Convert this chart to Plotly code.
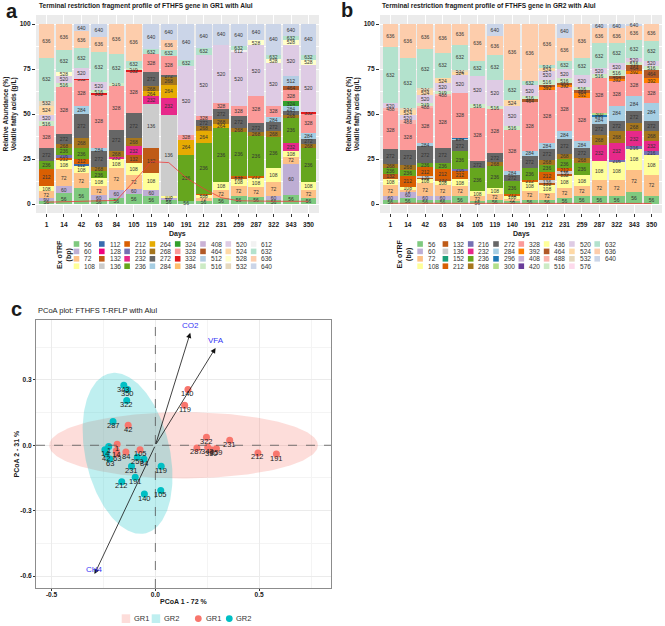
import numpy as np
import plotly.graph_objects as go

W, H = 665, 626
OX, OY = 0, 0
FONT = "Liberation Sans, Arial, sans-serif"

# ---------------- data: T-RFLP profiles ----------------
DAYS = ['1', '14', '42', '63', '84', '105', '119', '140', '191', '212', '231', '259', '287', '322', '343', '350']

FRAGS_GR1 = [56, 60, 72, 108, 112, 128, 132, 136, 212, 216, 232, 236, 264, 268, 272, 284,
             324, 328, 332, 384, 408, 464, 512, 516, 520, 524, 528, 532, 612, 632, 636, 640]
FRAGS_GR2 = [56, 60, 72, 108, 132, 136, 152, 212, 216, 232, 236, 268, 272, 284, 296, 300,
             328, 392, 408, 420, 436, 464, 488, 516, 520, 524, 532, 576, 632, 636, 640]

FRAG_COLORS = {
    56: '#7FC97F', 60: '#BEAED4', 72: '#FDC086', 108: '#FFFF99', 112: '#386CB0', 128: '#F0027F',
    132: '#BF5B17', 136: '#CCCCCC', 152: '#1B9E77', 212: '#D95F02', 216: '#7570B3', 232: '#E7298A',
    236: '#66A61E', 264: '#E6AB02', 268: '#A6761D', 272: '#666666', 284: '#A6CEE3', 296: '#1F78B4',
    300: '#B2DF8A', 324: '#33A02C', 328: '#FB9A99', 332: '#E31A1C', 384: '#FDBF6F', 392: '#FF7F00',
    408: '#CAB2D6', 420: '#6A3D9A', 436: '#FFFF99', 464: '#B15928', 488: '#FBB4AE', 512: '#B3CDE3',
    516: '#CCEBC5', 520: '#DECBE4', 524: '#FED9A6', 528: '#FFFFCC', 532: '#E5D8BD', 576: '#FDDAEC',
    612: '#F2F2F2', 632: '#B3E2CD', 636: '#FDCDAC', 640: '#CBD5E8',
}

# GR1 relative abundance (%) per sampling day
GR1_D1 = {56: 1.8, 60: 1.5, 72: 3.7, 108: 3.2, 212: 9.2, 236: 4.3, 272: 7.3, 328: 12.1, 516: 2.8, 520: 3.7, 524: 5.0, 532: 2.8, 632: 23.6, 636: 19.0}
GR1_D14 = {56: 5.9, 60: 3.9, 72: 9.6, 108: 4.8, 212: 1.3, 216: 1.9, 236: 3.6, 268: 2.5, 272: 5.5, 328: 26.0, 516: 2.2, 520: 4.1, 528: 1.8, 632: 12.3, 636: 14.6}
GR1_D42 = {56: 8.7, 72: 8.5, 108: 3.7, 112: 1.5, 212: 2.6, 236: 6.1, 268: 5.5, 272: 13.4, 284: 4.6, 328: 14.5, 332: 0.5, 520: 5.9, 632: 11.2, 636: 9.2, 640: 4.1}
GR1_D63 = {56: 2.0, 60: 3.2, 72: 4.6, 108: 4.6, 236: 3.7, 268: 2.4, 272: 8.7, 284: 1.9, 328: 30.0, 332: 0.6, 516: 1.5, 520: 4.5, 632: 16.8, 636: 8.3, 640: 7.2}
GR1_D84 = {56: 3.5, 60: 4.4, 72: 12.1, 108: 5.0, 232: 1.2, 268: 3.4, 272: 11.4, 328: 24.5, 516: 2.0, 632: 16.1, 636: 16.4}
GR1_D105 = {56: 5.7, 60: 2.6, 72: 8.0, 108: 6.5, 132: 4.6, 232: 4.6, 268: 4.6, 272: 13.8, 328: 23.3, 332: 0.5, 516: 1.5, 632: 4.0, 636: 20.3}
GR1_D119 = {56: 4.3, 60: 3.7, 108: 9.2, 132: 13.9, 136: 24.6, 232: 4.1, 264: 2.8, 268: 3.1, 272: 7.4, 328: 10.2, 632: 2.8, 640: 13.9}
GR1_D140 = {56: 2.0, 60: 1.5, 108: 1.0, 136: 45.1, 232: 9.3, 264: 7.4, 268: 4.3, 272: 1.3, 328: 10.1, 632: 3.4, 636: 5.9, 640: 8.7}
GR1_D191 = {56: 1.5, 236: 25.9, 264: 8.3, 328: 2.8, 520: 38.0, 632: 3.7, 640: 19.8}
GR1_D212 = {56: 1.8, 72: 1.7, 108: 1.6, 212: 0.6, 236: 28.2, 264: 6.5, 268: 3.1, 272: 3.4, 328: 1.8, 520: 34.3, 632: 3.7, 640: 13.3}
GR1_D231 = {56: 3.3, 72: 4.3, 108: 4.4, 236: 30.2, 264: 2.4, 268: 2.4, 272: 5.9, 328: 3.3, 520: 32.4, 640: 11.4}
GR1_D259 = {56: 4.3, 72: 5.5, 108: 4.6, 132: 0.6, 212: 0.7, 236: 24.1, 268: 2.4, 272: 6.5, 328: 5.6, 520: 30.0, 612: 1.5, 632: 1.8, 640: 12.4}
GR1_D287 = {56: 3.9, 72: 5.5, 108: 5.0, 212: 1.3, 236: 21.9, 268: 2.2, 272: 5.2, 328: 15.2, 520: 27.9, 528: 3.2, 640: 8.7}
GR1_D322 = {56: 2.4, 60: 1.9, 72: 7.7, 108: 8.0, 236: 17.2, 268: 3.2, 272: 5.0, 284: 2.9, 328: 6.3, 520: 23.7, 528: 2.3, 632: 2.4, 640: 17.0}
GR1_D343 = {56: 5.2, 60: 17.2, 72: 3.7, 108: 3.2, 232: 4.6, 236: 13.9, 268: 1.8, 272: 1.9, 284: 2.8, 324: 2.7, 328: 6.5, 464: 2.2, 512: 5.2, 520: 17.6, 528: 2.8, 632: 1.8, 640: 6.9}
GR1_D350 = {56: 3.3, 72: 4.3, 108: 4.4, 236: 19.1, 268: 2.4, 272: 2.6, 284: 3.3, 328: 10.8, 332: 0.8, 520: 26.4, 528: 2.8, 632: 2.8, 640: 17.0}
GR1_PROFILES = [GR1_D1, GR1_D14, GR1_D42, GR1_D63, GR1_D84, GR1_D105, GR1_D119, GR1_D140,
                GR1_D191, GR1_D212, GR1_D231, GR1_D259, GR1_D287, GR1_D322, GR1_D343, GR1_D350]

# GR2 relative abundance (%) per sampling day
GR2_D1 = {56: 2.4, 60: 1.9, 72: 6.4, 108: 3.4, 132: 2.8, 236: 3.1, 268: 2.4, 272: 8.2, 328: 21.3, 488: 1.4, 520: 2.8, 632: 30.9, 636: 13.0}
GR2_D14 = {56: 3.3, 60: 3.5, 72: 1.2, 108: 1.4, 212: 6.3, 236: 3.4, 268: 2.8, 272: 8.3, 328: 14.4, 488: 1.9, 520: 3.1, 524: 2.4, 532: 1.3, 632: 27.8, 636: 18.9}
GR2_D42 = {56: 2.4, 60: 1.9, 72: 7.4, 108: 2.4, 132: 0.7, 136: 0.6, 212: 5.0, 236: 2.4, 272: 9.2, 284: 1.9, 328: 19.4, 488: 1.3, 516: 1.5, 520: 4.6, 524: 2.4, 532: 1.3, 632: 21.7, 636: 13.9}
GR2_D63 = {56: 2.0, 60: 2.3, 72: 6.4, 108: 2.4, 132: 0.8, 212: 5.7, 236: 3.2, 272: 8.3, 328: 28.7, 488: 1.5, 516: 1.3, 520: 4.6, 524: 2.8, 632: 13.9, 636: 16.1}
GR2_D84 = {56: 4.3, 72: 5.5, 108: 4.1, 212: 4.8, 216: 0.9, 236: 9.7, 272: 6.4, 284: 0.6, 296: 0.4, 328: 25.0, 520: 10.2, 524: 1.4, 532: 1.3, 632: 13.9, 636: 11.5}
GR2_D105 = {56: 1.5, 72: 2.8, 108: 2.7, 236: 13.0, 272: 3.7, 328: 29.6, 516: 2.4, 520: 15.6, 632: 8.0, 636: 20.7}
GR2_D119 = {56: 2.0, 72: 3.7, 108: 3.2, 236: 12.0, 268: 2.2, 272: 5.2, 328: 24.5, 516: 1.5, 520: 14.8, 632: 13.8, 636: 10.2, 640: 6.9}
GR2_D140 = {56: 1.8, 72: 1.2, 108: 1.5, 212: 0.8, 236: 7.7, 272: 3.3, 284: 1.8, 328: 23.2, 516: 1.8, 520: 11.5, 524: 3.4, 632: 11.1, 636: 30.9}
GR2_D191 = {56: 2.4, 72: 5.1, 108: 4.5, 212: 1.5, 236: 6.5, 272: 6.8, 284: 2.7, 328: 27.7, 464: 1.0, 516: 1.8, 520: 5.9, 632: 2.4, 636: 31.7}
GR2_D212 = {56: 2.4, 72: 3.7, 108: 4.6, 132: 1.0, 136: 1.5, 212: 4.4, 236: 4.3, 268: 2.7, 272: 6.0, 284: 3.3, 328: 29.6, 392: 1.5, 464: 1.3, 516: 2.8, 520: 4.6, 524: 1.9, 632: 1.8, 636: 22.6}
GR2_D231 = {56: 3.3, 72: 5.6, 108: 6.5, 132: 1.3, 136: 1.4, 212: 1.9, 236: 5.0, 268: 3.0, 272: 8.1, 284: 4.3, 328: 24.6, 392: 1.3, 464: 0.9, 516: 2.8, 520: 5.0, 632: 4.3, 636: 12.9, 640: 7.8}
GR2_D259 = {56: 4.2, 72: 5.6, 108: 6.5, 236: 6.5, 268: 2.8, 272: 5.5, 284: 3.7, 328: 24.1, 392: 2.8, 464: 1.4, 516: 1.9, 520: 6.9, 632: 9.2, 636: 18.9}
GR2_D287 = {56: 4.3, 72: 9.2, 108: 10.2, 232: 9.3, 268: 5.5, 272: 6.1, 284: 4.1, 296: 0.9, 300: 1.0, 328: 19.4, 516: 2.4, 520: 3.2, 632: 13.8, 636: 8.4, 640: 2.2}
GR2_D322 = {56: 4.2, 72: 9.3, 108: 10.2, 216: 0.9, 232: 9.3, 268: 6.6, 272: 5.5, 284: 8.6, 328: 13.5, 392: 1.3, 464: 1.9, 516: 3.0, 520: 4.0, 632: 11.1, 636: 8.4, 640: 2.2}
GR2_D343 = {56: 6.5, 72: 12.6, 108: 11.6, 216: 1.3, 232: 8.4, 268: 4.6, 272: 6.5, 284: 8.3, 328: 12.6, 392: 1.7, 464: 2.9, 516: 1.9, 520: 2.2, 632: 10.2, 636: 7.4, 640: 1.3}
GR2_D350 = {56: 4.3, 72: 12.0, 108: 11.1, 216: 1.9, 232: 5.5, 268: 5.6, 272: 5.5, 284: 10.2, 328: 11.1, 392: 2.8, 464: 4.3, 516: 2.6, 520: 2.4, 632: 11.1, 636: 9.6}
GR2_PROFILES = [GR2_D1, GR2_D14, GR2_D42, GR2_D63, GR2_D84, GR2_D105, GR2_D119, GR2_D140,
                GR2_D191, GR2_D212, GR2_D231, GR2_D259, GR2_D287, GR2_D322, GR2_D343, GR2_D350]

# volatile fatty acids (g/L) overlaid as line
VFA_GR1 = [1.0, 1.2, 1.4, 1.7, 2.0, 12.5, 23.5, 23.0, 14.5, 8.5, 3.5, 1.8, 1.5, 1.5, 1.5, 1.5]
VFA_GR2 = [0.4, 0.4, 0.4, 0.3, 0.3, 0.3, 0.3, 0.3, 0.3, 0.3, 0.3, 0.3, 0.3, 0.3, 0.3, 0.3]

# ---------------- data: PCoA ----------------
PC_DAYS_GR1 = ['1', '14', '42', '63', '84', '105', '119', '140', '191', '212', '231', '259', '287', '322', '343', '350']
PC1_GR1 = [-0.184, -0.188, -0.131, -0.184, -0.142, -0.074, 0.141, 0.157, 0.583, 0.494, 0.358, 0.294, 0.200, 0.246, 0.252, 0.269]
PC2_GR1 = [0.005, -0.025, 0.092, -0.040, -0.031, -0.020, 0.184, 0.256, -0.040, -0.035, 0.023, -0.015, -0.012, 0.037, -0.009, -0.021]
PC_DAYS_GR2 = ['1', '14', '42', '63', '84', '105', '119', '140', '191', '212', '231', '259', '287', '322', '343', '350']
PC1_GR2 = [-0.225, -0.243, -0.236, -0.220, -0.055, 0.026, 0.028, -0.053, -0.097, -0.162, -0.115, -0.087, -0.204, -0.138, -0.152, -0.134]
PC2_GR2 = [-0.006, -0.021, -0.040, -0.063, -0.063, -0.208, -0.096, -0.224, -0.147, -0.167, -0.096, -0.055, 0.109, 0.205, 0.276, 0.256]
ENV_NAMES = ['CO2', 'VFA', 'CH4']
ENV_PC1 = [0.168, 0.290, -0.293]
ENV_PC2 = [0.516, 0.447, -0.591]
# 95% confidence ellipses: centre, semi-axes, rotation (deg)
ELL_GR1 = (0.136, 0.000, 0.647, 0.152, 0.0)
ELL_GR2 = (-0.134, -0.037, 0.377, 0.203, -76.3)

C_GR1, C_GR2 = '#F8766D', '#00BFC4'
F_GR1, F_GR2 = 'rgba(248,118,109,0.25)', 'rgba(0,191,196,0.25)'

# ---------------- figure ----------------
fig = go.Figure()
shapes, ann = [], []


def px(x):
    return (x - OX) / W


def py(y):
    return 1 - (y - OY) / H


def add_text(text, x, y, size, color='#1a1a1a', xanchor='center', yanchor='middle', angle=0):
    ann.append(dict(text=text, x=px(x), y=py(y), xref='paper', yref='paper', showarrow=False,
                    font=dict(family=FONT, size=size, color=color), xanchor=xanchor,
                    yanchor=yanchor, textangle=angle, borderpad=0))


def add_bars(frags, profiles, xa, ya):
    for f in frags:
        vals = [p.get(f, 0) for p in profiles]
        fig.add_trace(go.Bar(
            x=DAYS, y=vals, name=str(f), width=0.9,
            marker=dict(color=FRAG_COLORS[f], line=dict(width=0)),
            text=[str(f) if v > 0 else '' for v in vals],
            textposition='inside', insidetextanchor='middle', textangle=0,
            textfont=dict(family=FONT, size=5, color='#333333'),
            xaxis=xa, yaxis=ya, showlegend=False, hoverinfo='skip'))


add_bars(FRAGS_GR1, GR1_PROFILES, 'x', 'y')
add_bars(FRAGS_GR2, GR2_PROFILES, 'x2', 'y2')
fig.add_trace(go.Scatter(x=DAYS, y=VFA_GR1, mode='lines', line=dict(color='#EE3B3B', width=0.8),
                         xaxis='x', yaxis='y', showlegend=False, hoverinfo='skip'))
fig.add_trace(go.Scatter(x=DAYS, y=VFA_GR2, mode='lines', line=dict(color='#EE3B3B', width=0.8),
                         xaxis='x2', yaxis='y2', showlegend=False, hoverinfo='skip'))


def ellipse(params):
    cx, cy, a, b, ang = params
    t = np.linspace(0, 2 * np.pi, 240)
    th = np.deg2rad(ang)
    xs = cx + a * np.cos(th) * np.cos(t) - b * np.sin(th) * np.sin(t)
    ys = cy + a * np.sin(th) * np.cos(t) + b * np.cos(th) * np.sin(t)
    return xs, ys


for params, fc, nm in [(ELL_GR1, F_GR1, 'GR1'), (ELL_GR2, F_GR2, 'GR2')]:
    ex, ey = ellipse(params)
    fig.add_trace(go.Scatter(x=ex, y=ey, mode='lines', fill='toself', fillcolor=fc,
                             line=dict(width=0), xaxis='x3', yaxis='y3', name=nm,
                             showlegend=False, hoverinfo='skip'))

for xs, ys, c, nm in [(PC1_GR1, PC2_GR1, C_GR1, 'GR1'), (PC1_GR2, PC2_GR2, C_GR2, 'GR2')]:
    fig.add_trace(go.Scatter(x=xs, y=ys, mode='markers', marker=dict(color=c, size=7, line=dict(width=0)),
                             xaxis='x3', yaxis='y3', name=nm, showlegend=False))

# point labels
for days, xs, ys in [(PC_DAYS_GR1, PC1_GR1, PC2_GR1), (PC_DAYS_GR2, PC1_GR2, PC2_GR2)]:
    for d, xv, yv in zip(days, xs, ys):
        ann.append(dict(text=d, x=xv, y=yv, xref='x3', yref='y3', showarrow=False, yshift=-4,
                        font=dict(family=FONT, size=7.5, color='#1a1a1a')))

# environmental vectors
for nm, xv, yv in zip(ENV_NAMES, ENV_PC1, ENV_PC2):
    ann.append(dict(text='', x=xv, y=yv, ax=0, ay=0, xref='x3', yref='y3', axref='x3', ayref='y3',
                    showarrow=True, arrowhead=2, arrowsize=1.3, arrowwidth=0.8, arrowcolor='#111111'))
    ann.append(dict(text=nm, x=xv, y=yv, xref='x3', yref='y3', showarrow=False,
                    yshift=7 if yv > 0 else 5, font=dict(family=FONT, size=8, color='#3535F5')))

# panel c background, zero lines
shapes.append(dict(type='rect', xref='x3', yref='y3', x0=-5, x1=5, y0=-5, y1=5,
                   fillcolor='white', line=dict(width=0), layer='below'))
shapes.append(dict(type='line', xref='x3', yref='y3 domain', x0=0, x1=0, y0=0, y1=1,
                   line=dict(color='#555555', width=0.8, dash='dash')))
shapes.append(dict(type='line', xref='x3 domain', yref='y3', x0=0, x1=1, y0=0, y1=0,
                   line=dict(color='#555555', width=0.8, dash='dash')))

# ---------- text: titles, axis titles ----------
add_text('<b>a</b>', 12, 11, 20)
add_text('<b>b</b>', 347, 10, 20)
add_text('<b>c</b>', 16, 309, 20)
add_text('<b>Terminal restriction fragment profile of FTHFS gene in GR1 with AluI</b>', 38, 5.5, 6.6, xanchor='left')
add_text('<b>Terminal restriction fragment profile of FTHFS gene in GR2 with AluI</b>', 381, 5.5, 6.6, xanchor='left')
add_text('PCoA plot: FTHFS T-RFLP with AluI', 37, 310, 7.5, xanchor='left')
ytitle = '<b>Relative Abundance (%)<br>Volatile fatty acids (g/L)</b>'
add_text(ytitle, 9.5, 114, 6.6, angle=-90)
add_text(ytitle, 352.5, 114, 6.6, angle=-90)
add_text('<b>Days</b>', 177.5, 233.5, 7)
add_text('<b>Days</b>', 521, 233.5, 7)
add_text('<b>PCoA 1 - 72 %</b>', 183.5, 601, 7)
add_text('<b>PCoA 2 - 31 %</b>', 15.5, 454, 7, angle=-90)


# ---------- manual legends ----------
def frag_legend(frags, title_x, x0):
    add_text('<b>Ex oTRF<br>(bp)</b>', title_x, 254.5, 7, angle=-90)
    for i, f in enumerate(frags):
        col, row = divmod(i, 4)
        left = x0 + col * 25.3
        top = 241.2 + row * 7.4
        shapes.append(dict(type='rect', xref='paper', yref='paper', x0=px(left), x1=px(left + 5.6),
                           y0=py(top + 5.6), y1=py(top), fillcolor=FRAG_COLORS[f], line=dict(width=0)))
        add_text(str(f), left + 9.5, top + 2.9, 6.6, color='#333333', xanchor='left')


frag_legend(FRAGS_GR1, 64.5, 73.7)
frag_legend(FRAGS_GR2, 404, 417.3)

# panel c legend
for x0, fc in [(121.7, F_GR1), (151.7, F_GR2)]:
    shapes.append(dict(type='rect', xref='paper', yref='paper', x0=px(x0), x1=px(x0 + 8.5),
                       y0=py(623), y1=py(614.3), fillcolor=fc, line=dict(width=0)))
for cx, c in [(198.3, C_GR1), (229.3, C_GR2)]:
    shapes.append(dict(type='circle', xref='paper', yref='paper', x0=px(cx - 3.4), x1=px(cx + 3.4),
                       y0=py(618.6 + 3.4), y1=py(618.6 - 3.4), fillcolor=c, line=dict(width=0)))
add_text('GR1', 133, 618.6, 7.5, color='#333333', xanchor='left')
add_text('GR2', 163, 618.6, 7.5, color='#333333', xanchor='left')
add_text('GR1', 204.5, 618.6, 7.5, color='#333333', xanchor='left')
add_text('GR2', 235.5, 618.6, 7.5, color='#333333', xanchor='left')

# ---------- axes ----------
tickfont = dict(family=FONT, size=6.6, color='#1a1a1a', weight='bold')
YAB = [py(213), py(15)]


def bar_xaxis(dom, anchor):
    return dict(domain=dom, anchor=anchor, type='category', range=[-0.6, 15.6], categoryorder='array',
                categoryarray=DAYS, showgrid=True, gridcolor='white', gridwidth=1, ticks='outside',
                ticklen=3, tickcolor='#333333', tickfont=tickfont, zeroline=False, showline=False,
                ticklabelstandoff=2)


def bar_yaxis(anchor):
    return dict(domain=YAB, anchor=anchor, range=[-5, 105], tickvals=[0, 25, 50, 75, 100],
                showgrid=True, gridcolor='white', gridwidth=1, ticks='outside', ticklen=3,
                tickcolor='#333333', tickfont=tickfont, zeroline=False, showline=False,
                minor=dict(tickvals=[12.5, 37.5, 62.5, 87.5], showgrid=True, gridcolor='white',
                           gridwidth=0.5, ticks=''))


fig.update_layout(
    width=W, height=H, margin=dict(l=0, r=0, t=0, b=0),
    paper_bgcolor='white', plot_bgcolor='#EBEBEB',
    barmode='stack', bargap=0.1, showlegend=False,
    uniformtext=dict(minsize=5, mode='show'),
    font=dict(family=FONT, size=7, color='#1a1a1a'),
    xaxis=bar_xaxis([px(36), px(319)], 'y'),
    yaxis=bar_yaxis('x'),
    xaxis2=bar_xaxis([px(380), px(662)], 'y2'),
    yaxis2=bar_yaxis('x2'),
    xaxis3=dict(domain=[px(36), px(331)], anchor='y3', range=[-0.575, 0.846],
                tickvals=[-0.5, 0, 0.5], ticktext=['-0.5', '0.0', '0.5'],
                showgrid=True, gridcolor='#EBEBEB', gridwidth=1, zeroline=False,
                showline=True, mirror=True, linecolor='#8C8C8C', linewidth=1,
                ticks='outside', ticklen=2, tickcolor='#333333', tickfont=tickfont,
                ticklabelstandoff=-2,
                minor=dict(tickvals=[-0.25, 0.25, 0.75], showgrid=True, gridcolor='#F4F4F4',
                           gridwidth=0.6, ticks='')),
    yaxis3=dict(domain=[py(588), py(320)], anchor='x3', range=[-0.655, 0.575],
                tickvals=[-0.6, -0.3, 0, 0.3], ticktext=['-0.6', '-0.3', '0.0', '0.3'],
                showgrid=True, gridcolor='#EBEBEB', gridwidth=1, zeroline=False,
                showline=True, mirror=True, linecolor='#8C8C8C', linewidth=1,
                ticks='outside', ticklen=2, tickcolor='#333333', tickfont=tickfont,
                minor=dict(tickvals=[-0.45, -0.15, 0.15, 0.45], showgrid=True, gridcolor='#F4F4F4',
                           gridwidth=0.6, ticks='')),
    shapes=shapes, annotations=ann,
)

# remove the default page margin so the figure sits at the window's top-left corner
fig.write_html('out.html', config={'displayModeBar': False},
               post_script="document.body.style.margin='0px';")
